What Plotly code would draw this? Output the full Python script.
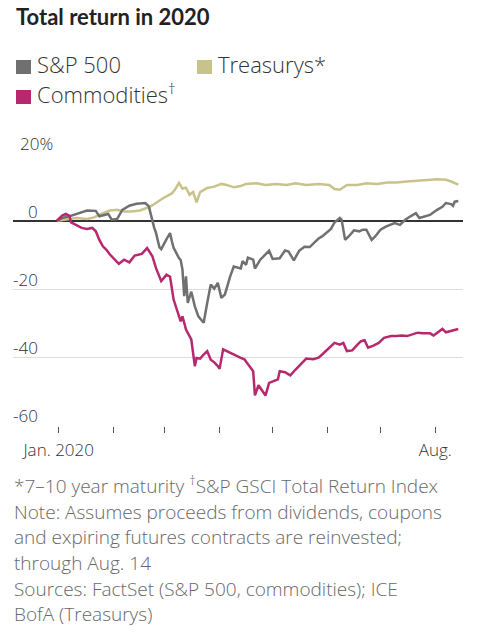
import plotly.graph_objects as go

# values (% total return since end of 2019)
sp_dates = [
    "2019-12-31", "2020-01-03", "2020-01-07", "2020-01-13", "2020-01-17", "2020-01-22",
    "2020-01-24", "2020-01-29", "2020-01-31", "2020-02-03", "2020-02-06", "2020-02-10",
    "2020-02-14", "2020-02-19", "2020-02-21", "2020-02-24", "2020-02-25", "2020-02-27",
    "2020-02-28", "2020-03-02", "2020-03-04", "2020-03-05", "2020-03-06", "2020-03-09",
    "2020-03-10", "2020-03-11", "2020-03-12", "2020-03-13", "2020-03-14", "2020-03-16",
    "2020-03-18", "2020-03-20", "2020-03-23", "2020-03-25", "2020-03-27", "2020-03-29",
    "2020-03-31", "2020-04-02", "2020-04-04", "2020-04-07", "2020-04-09", "2020-04-13",
    "2020-04-14", "2020-04-16", "2020-04-17", "2020-04-20", "2020-04-21", "2020-04-24",
    "2020-04-27", "2020-04-29", "2020-05-01", "2020-05-05", "2020-05-08", "2020-05-10",
    "2020-05-13", "2020-05-16", "2020-05-19", "2020-05-22", "2020-05-25", "2020-05-27",
    "2020-05-29", "2020-06-03", "2020-06-05", "2020-06-08", "2020-06-09", "2020-06-11",
    "2020-06-13", "2020-06-16", "2020-06-19", "2020-06-21", "2020-06-23", "2020-06-26",
    "2020-06-28", "2020-07-01", "2020-07-04", "2020-07-07", "2020-07-09", "2020-07-12",
    "2020-07-15", "2020-07-18", "2020-07-21", "2020-07-23", "2020-07-26", "2020-07-29",
    "2020-08-02", "2020-08-05", "2020-08-07", "2020-08-10", "2020-08-11", "2020-08-12",
    "2020-08-14",
]
sp_values = [
    0, 0.8, 1.3, 2.2, 3.0, 2.9,
    1.3, 2.0, 0.3, 0.5, 3.2, 4.4,
    5.0, 5.2, 4.2, -2.0, -3.5, -7.8,
    -8.3, -5.4, -3.6, -6.0, -7.9, -10.9,
    -11.5, -14.3, -22.1, -16.3, -24.1, -20.8,
    -25.1, -28.0, -29.9, -24.1, -18.7, -19.9,
    -18.2, -22.6, -21.6, -16.3, -13.4, -14.0,
    -11.8, -12.9, -10.8, -11.4, -14.0, -11.4,
    -10.0, -8.8, -11.2, -11.0, -8.7, -9.0,
    -11.6, -8.8, -7.6, -7.7, -6.2, -5.2,
    -4.6, -2.4, -0.5, 0.8, 0.3, -5.6,
    -4.6, -2.8, -3.1, -2.6, -2.6, -5.6,
    -4.6, -2.6, -1.7, -1.2, -0.7, -1.2,
    0.3, 1.3, 2.2, 0.8, 1.3, 1.7,
    3.2, 4.1, 5.2, 4.9, 4.4, 5.6,
    5.8,
]

tsy_dates = [
    "2019-12-31", "2020-01-05", "2020-01-11", "2020-01-17", "2020-01-21", "2020-01-26",
    "2020-01-30", "2020-02-03", "2020-02-07", "2020-02-11", "2020-02-16", "2020-02-22",
    "2020-02-25", "2020-02-29", "2020-03-05", "2020-03-07", "2020-03-09", "2020-03-11",
    "2020-03-13", "2020-03-15", "2020-03-17", "2020-03-19", "2020-03-21", "2020-03-25",
    "2020-03-29", "2020-04-02", "2020-04-05", "2020-04-09", "2020-04-13", "2020-04-16",
    "2020-04-22", "2020-04-27", "2020-05-03", "2020-05-09", "2020-05-14", "2020-05-20",
    "2020-05-27", "2020-06-02", "2020-06-05", "2020-06-08", "2020-06-12", "2020-06-18",
    "2020-06-23", "2020-06-29", "2020-07-05", "2020-07-10", "2020-07-16", "2020-07-21",
    "2020-07-27", "2020-08-02", "2020-08-07", "2020-08-10", "2020-08-14",
]
tsy_values = [
    0, 0.3, 0.8, 0.5, 1.0, 2.2,
    3.0, 3.2, 2.7, 2.7, 3.0, 4.2,
    5.2, 6.6, 8.0, 9.3, 11.1, 9.4,
    9.7, 7.6, 8.4, 5.4, 8.4, 9.6,
    10.0, 10.8, 10.5, 9.8, 10.2, 10.8,
    11.0, 10.5, 10.8, 10.5, 11.0, 10.5,
    10.8, 10.5, 9.3, 9.1, 10.5, 10.5,
    11.0, 10.8, 11.2, 11.2, 11.5, 11.7,
    11.8, 12.2, 12.0, 11.5, 10.6,
]

com_dates = [
    "2019-12-31", "2020-01-03", "2020-01-05", "2020-01-07", "2020-01-08", "2020-01-11",
    "2020-01-14", "2020-01-17", "2020-01-20", "2020-01-22", "2020-01-24", "2020-01-26",
    "2020-01-28", "2020-01-30", "2020-02-02", "2020-02-04", "2020-02-07", "2020-02-10",
    "2020-02-13", "2020-02-17", "2020-02-20", "2020-02-23", "2020-02-25", "2020-02-28",
    "2020-03-02", "2020-03-04", "2020-03-06", "2020-03-09", "2020-03-10", "2020-03-11",
    "2020-03-13", "2020-03-16", "2020-03-17", "2020-03-18", "2020-03-19", "2020-03-21",
    "2020-03-23", "2020-03-25", "2020-03-27", "2020-03-29", "2020-03-31", "2020-04-01",
    "2020-04-03", "2020-04-06", "2020-04-09", "2020-04-13", "2020-04-15", "2020-04-18",
    "2020-04-20", "2020-04-21", "2020-04-23", "2020-04-27", "2020-04-29", "2020-05-04",
    "2020-05-05", "2020-05-08", "2020-05-11", "2020-05-14", "2020-05-17", "2020-05-20",
    "2020-05-24", "2020-05-27", "2020-05-29", "2020-05-31", "2020-06-02", "2020-06-05",
    "2020-06-08", "2020-06-10", "2020-06-12", "2020-06-15", "2020-06-18", "2020-06-20",
    "2020-06-22", "2020-06-24", "2020-06-27", "2020-06-30", "2020-07-03", "2020-07-07",
    "2020-07-10", "2020-07-13", "2020-07-16", "2020-07-19", "2020-07-22", "2020-07-25",
    "2020-07-29", "2020-07-31", "2020-08-03", "2020-08-05", "2020-08-07", "2020-08-10",
    "2020-08-13", "2020-08-14",
]
com_values = [
    0, 1.5, 2.0, 1.5, -0.5, -1.2,
    -2.1, -2.4, -2.1, -3.1, -5.6, -7.5,
    -8.5, -9.9, -11.6, -12.6, -11.4, -12.2,
    -10.2, -9.7, -8.0, -10.4, -13.8, -17.7,
    -15.8, -16.4, -23.1, -28.0, -29.5, -28.0,
    -31.9, -34.8, -38.2, -42.6, -40.2, -40.4,
    -39.2, -38.2, -40.7, -41.5, -42.6, -43.4,
    -37.7, -38.5, -39.2, -40.2, -40.6, -42.6,
    -44.1, -51.2, -48.2, -51.2, -47.5, -46.5,
    -44.1, -44.4, -45.3, -43.6, -42.1, -40.4,
    -40.6, -40.1, -39.2, -38.2, -37.2, -35.8,
    -36.3, -35.8, -38.2, -38.0, -36.3, -35.3,
    -35.0, -37.2, -36.6, -35.8, -34.3, -33.8,
    -33.8, -33.6, -33.8, -33.3, -32.8, -33.0,
    -33.0, -33.6, -32.4, -31.7, -32.7, -32.3,
    -31.7, -31.7,
]

series_names = ["S&P 500", "Treasurys*", "Commodities<sup>†</sup>"]
series_colors = ["#707070", "#c8c28b", "#b7286f"]

y_tick_vals = [20, 0, -20, -40, -60]
y_tick_text = ["20%", "0", "-20", "-40", "-60"]

month_starts = ["2020-01-01", "2020-02-01", "2020-03-01", "2020-04-01",
                "2020-05-01", "2020-06-01", "2020-07-01", "2020-08-01"]
x_label_vals = ["2020-01-01", "2020-08-01"]
x_label_text = ["Jan. 2020", "Aug."]

title_text = "Total return in 2020"
footnote_lines = [
    "*7–10 year maturity <sup>†</sup>S&P GSCI Total Return Index",
    "Note: Assumes proceeds from dividends, coupons",
    "and expiring futures contracts are reinvested;",
    "through Aug. 14",
    "Sources: FactSet (S&P 500, commodities); ICE",
    "BofA (Treasurys)",
]

W, H = 479, 635
ML, MR, MT, MB = 13, 16, 152, 209
FONT = "Open Sans"
TITLE_FONT = "Lato"


def px_x(px):
    return (px - ML) / (W - ML - MR)


def px_y(py):
    return (H - MB - py) / (H - MT - MB)


fig = go.Figure()
# draw order: treasurys, s&p, commodities
for dates, vals, i in [(tsy_dates, tsy_values, 1), (sp_dates, sp_values, 0), (com_dates, com_values, 2)]:
    fig.add_trace(go.Scatter(
        x=dates, y=vals, mode="lines", name=series_names[i],
        line=dict(color=series_colors[i], width=2.5),
        showlegend=False, hoverinfo="skip",
    ))

annotations = []
shapes = []

annotations.append(dict(
    text=title_text, xref="paper", yref="paper", x=px_x(15), y=px_y(30.7),
    xanchor="left", yanchor="bottom", showarrow=False, borderpad=0,
    font=dict(family=TITLE_FONT, size=22, color="#222222", weight="bold"),
))

# legend: square + label
legend_pos = [(16, 60), (197, 60), (16, 90)]
for i, (lx, ly) in enumerate(legend_pos):
    shapes.append(dict(
        type="rect", xref="paper", yref="paper",
        x0=px_x(lx), x1=px_x(lx + 15), y0=px_y(ly), y1=px_y(ly + 14),
        fillcolor=series_colors[i], line=dict(width=0),
    ))
    annotations.append(dict(
        text=series_names[i], xref="paper", yref="paper",
        x=px_x(lx + 20), y=px_y(ly + 14 + 6.3),
        xanchor="left", yanchor="bottom", showarrow=False, borderpad=0,
        font=dict(family=FONT, size=22, color="#333333", weight=300),
    ))

# y tick labels: numbers right-aligned, % sign hanging to the right
for v, t in zip(y_tick_vals, y_tick_text):
    if t.endswith("%"):
        annotations.append(dict(
            text=t, xref="paper", yref="y", x=px_x(19), y=v, yshift=-3,
            xanchor="left", yanchor="bottom", showarrow=False, borderpad=0,
            font=dict(family=FONT, size=17, color="#333333", weight=300),
        ))
    else:
        annotations.append(dict(
            text=t, xref="paper", yref="y", x=px_x(38.5), y=v, yshift=-3,
            xanchor="right", yanchor="bottom", showarrow=False, borderpad=0,
            font=dict(family=FONT, size=17, color="#333333", weight=300),
        ))

# footnotes
baselines = [494.5, 520, 545.6, 571.4, 597, 622.5]
for line, b in zip(footnote_lines, baselines):
    annotations.append(dict(
        text=line, xref="paper", yref="paper", x=px_x(13), y=px_y(b + 5.6),
        xanchor="left", yanchor="bottom", showarrow=False, borderpad=0,
        font=dict(family=FONT, size=19, color="#686868", weight=300),
    ))

fig.update_layout(
    width=W, height=H,
    margin=dict(l=ML, r=MR, t=MT, b=MB, pad=0),
    paper_bgcolor="white", plot_bgcolor="white",
    font=dict(family=FONT, color="#333333"),
    annotations=annotations, shapes=shapes,
    showlegend=False,
)
fig.update_xaxes(
    type="date", range=["2019-12-06 04:00", "2020-08-16 16:00"],
    tickvals=x_label_vals, ticktext=x_label_text,
    ticks="outside", ticklen=6, tickwidth=1, tickcolor="#555555",
    ticklabelstandoff=3,
    tickfont=dict(family=FONT, size=17, color="#333333", weight=300),
    minor=dict(tickvals=month_starts, ticks="outside", ticklen=6, tickwidth=1,
               tickcolor="#555555", showgrid=False),
    showgrid=False, zeroline=False, showline=False,
)
fig.update_yaxes(
    range=[-60.15, 20.15], tickvals=y_tick_vals, showticklabels=False,
    showgrid=True, gridcolor="#dddddd", gridwidth=1.3,
    zeroline=True, zerolinecolor="#333333", zerolinewidth=1.5,
    showline=False, ticks="",
)

fig.write_html(
    "out.html",
    config={"displayModeBar": False},
    post_script="document.body.style.margin = '0';",
)
